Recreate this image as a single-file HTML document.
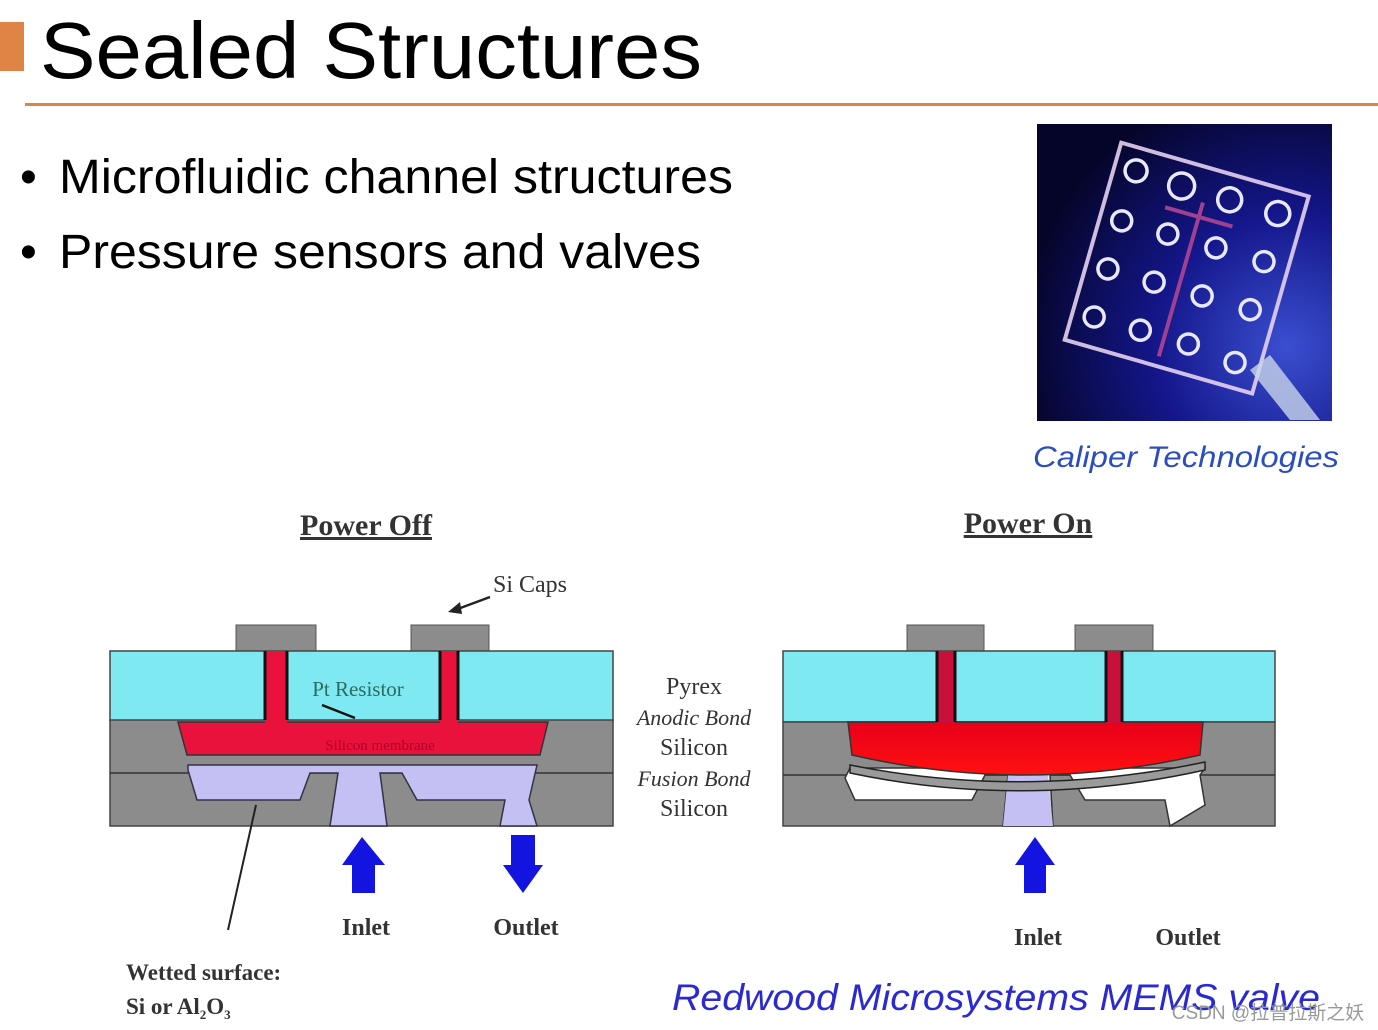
<!DOCTYPE html>
<html><head><meta charset="utf-8"><style>
html,body{margin:0;padding:0;background:#fff;}
svg{display:block;}
</style></head><body>
<svg width="1378" height="1030" viewBox="0 0 1378 1030" xmlns="http://www.w3.org/2000/svg">
<defs>
<radialGradient id="bg" cx="0.85" cy="0.75" r="0.9">
<stop offset="0" stop-color="#3a4fd0"/><stop offset="0.5" stop-color="#14168a"/><stop offset="1" stop-color="#05052a"/>
</radialGradient>
<linearGradient id="red2" x1="0" y1="0" x2="0" y2="1"><stop offset="0" stop-color="#e8001a"/><stop offset="1" stop-color="#ff1010"/></linearGradient>
</defs>
<!-- title -->
<rect x="0" y="22" width="24" height="49" fill="#e08446"/>
<text x="40" y="78" font-family="Liberation Sans, sans-serif" font-size="80" textLength="662" lengthAdjust="spacingAndGlyphs">Sealed Structures</text>
<rect x="25" y="103" width="1353" height="3" fill="#e08446"/>
<!-- bullets -->
<g font-family="Liberation Sans, sans-serif" font-size="48">
<text x="20" y="193">•</text>
<text x="59" y="193" textLength="674" lengthAdjust="spacingAndGlyphs">Microfluidic channel structures</text>
<text x="20" y="268">•</text>
<text x="59" y="268" textLength="642" lengthAdjust="spacingAndGlyphs">Pressure sensors and valves</text>
</g>
<!-- photo -->
<rect x="1037" y="124" width="295" height="297" fill="url(#bg)"/>
<g transform="rotate(16 1185 265)">
<rect x="1090" y="165" width="195" height="205" fill="none" stroke="#e6d2f0" stroke-width="4" opacity="0.9"/>
<g fill="none" stroke="#e8e8ff" stroke-width="3.5">
<circle cx="1112" cy="188" r="11"/><circle cx="1160" cy="190" r="13"/><circle cx="1210" cy="190" r="12"/><circle cx="1260" cy="190" r="12"/>
<circle cx="1112" cy="240" r="10"/><circle cx="1160" cy="240" r="10"/><circle cx="1210" cy="240" r="10"/><circle cx="1260" cy="240" r="10"/>
<circle cx="1112" cy="290" r="10"/><circle cx="1160" cy="290" r="10"/><circle cx="1210" cy="290" r="10"/><circle cx="1260" cy="290" r="10"/>
<circle cx="1112" cy="340" r="10"/><circle cx="1160" cy="340" r="10"/><circle cx="1210" cy="340" r="10"/><circle cx="1260" cy="345" r="10"/>
</g>
<path d="M1185 200 V360 M1150 215 H1220" stroke="#a04090" stroke-width="4" fill="none"/>
</g>
<path d="M1250 370 L1270 355 L1320 420 L1290 420 Z" fill="#c8d4e8" opacity="0.8"/>
<text x="1186" y="467" text-anchor="middle" font-family="Liberation Sans, sans-serif" font-style="italic" font-size="30" fill="#2a4dc0" textLength="306" lengthAdjust="spacingAndGlyphs">Caliper Technologies</text>

<!-- LEFT diagram -->
<g font-family="Liberation Serif, serif" font-weight="bold" fill="#333">
<text x="366" y="535" text-anchor="middle" font-size="30" text-decoration="underline">Power Off</text>
<text x="1028" y="533" text-anchor="middle" font-size="30" text-decoration="underline">Power On</text>
</g>
<text x="493" y="592" font-family="Liberation Serif, serif" font-size="24" fill="#333">Si Caps</text>
<line x1="490" y1="597" x2="455" y2="610" stroke="#222" stroke-width="2.5"/>
<polygon points="448,612 460,602 462,614" fill="#222"/>

<rect x="236" y="625" width="80" height="27" fill="#8c8c8c" stroke="#555"/>
<rect x="411" y="625" width="78" height="27" fill="#8c8c8c" stroke="#555"/>
<rect x="110" y="651" width="503" height="70" fill="#7fe9f2" stroke="#444" stroke-width="1.5"/>
<rect x="110" y="720" width="503" height="106" fill="#8c8c8c" stroke="#444" stroke-width="1.5"/>
<line x1="110" y1="773" x2="613" y2="773" stroke="#333" stroke-width="1.5"/>
<polygon points="178,722 548,722 540,755 187,755" fill="#e8123c" stroke="#333" stroke-width="1.5"/>
<rect x="265" y="651" width="22" height="72" fill="#e8123c"/>
<rect x="440" y="651" width="18" height="72" fill="#e8123c"/>
<path d="M265 651 V720 M287 651 V720 M440 651 V720 M458 651 V720" stroke="#111" stroke-width="3"/>
<polygon points="188,765 537,765 529,800 537,826 500,826 505,800 417,800 402,773 380,773 387,826 330,826 338,773 310,773 300,800 197,800 188,770" fill="#c4c0f4" stroke="#334" stroke-width="1.5"/>
<text x="358" y="696" text-anchor="middle" font-family="Liberation Serif, serif" font-size="21" fill="#2d6b60">Pt Resistor</text>
<line x1="322" y1="705" x2="355" y2="718" stroke="#111" stroke-width="2.5"/>
<text x="380" y="750" text-anchor="middle" font-family="Liberation Serif, serif" font-size="15" fill="#b00028">Silicon membrane</text>
<line x1="256" y1="805" x2="228" y2="930" stroke="#222" stroke-width="2"/>

<polygon points="362,837 385,865 375,865 375,893 352,893 352,865 342,865" fill="#1414e0"/>
<polygon points="523,893 543,865 535,865 535,835 511,835 511,865 503,865" fill="#1414e0"/>
<g font-family="Liberation Serif, serif" font-size="24" fill="#333" font-weight="bold">
<text x="366" y="935" text-anchor="middle">Inlet</text>
<text x="526" y="935" text-anchor="middle">Outlet</text>
<text x="1038" y="945" text-anchor="middle">Inlet</text>
<text x="1188" y="945" text-anchor="middle">Outlet</text>
<text x="126" y="980" font-size="23">Wetted surface:</text>
<text x="126" y="1014" font-size="23">Si or Al<tspan font-size="13" dy="5">2</tspan><tspan dy="-5">O</tspan><tspan font-size="13" dy="5">3</tspan></text>
</g>
<g font-family="Liberation Serif, serif" font-size="24" fill="#333" text-anchor="middle">
<text x="694" y="694">Pyrex</text>
<text x="694" y="725" font-style="italic" font-size="22">Anodic Bond</text>
<text x="694" y="755">Silicon</text>
<text x="694" y="786" font-style="italic" font-size="22">Fusion Bond</text>
<text x="694" y="816">Silicon</text>
</g>

<!-- RIGHT diagram -->
<rect x="907" y="625" width="77" height="27" fill="#8c8c8c" stroke="#555"/>
<rect x="1075" y="625" width="78" height="27" fill="#8c8c8c" stroke="#555"/>
<rect x="783" y="651" width="492" height="71" fill="#7fe9f2" stroke="#444" stroke-width="1.5"/>
<rect x="783" y="722" width="492" height="104" fill="#8c8c8c" stroke="#444" stroke-width="1.5"/>
<line x1="783" y1="775" x2="1275" y2="775" stroke="#333" stroke-width="1.5"/>
<polygon points="850,768 1205,768 1200,775 1205,805 1170,826 1165,800 1085,800 1070,775 1050,775 1053,826 1003,826 1008,775 985,775 972,800 855,800 845,778" fill="#fff" stroke="#333" stroke-width="1.5"/>
<polygon points="1003,826 1053,826 1048,775 1008,775" fill="#c4c0f4"/>
<path d="M850 765 Q1025 800 1205 762 L1205 770 Q1025 810 850 773 Z" fill="#9a9a9a" stroke="#222" stroke-width="1.5"/>
<path d="M848 722 L1203 722 L1200 755 Q1025 795 852 755 Z" fill="url(#red2)" stroke="#333" stroke-width="1.5"/>
<rect x="937" y="651" width="18" height="72" fill="#c8103a"/>
<rect x="1106" y="651" width="16" height="72" fill="#c8103a"/>
<path d="M937 651 V722 M955 651 V722 M1106 651 V722 M1122 651 V722" stroke="#111" stroke-width="3"/>
<polygon points="1035,837 1055,865 1046,865 1046,893 1024,893 1024,865 1015,865" fill="#1414e0"/>

<text x="996" y="1010" text-anchor="middle" font-family="Liberation Sans, sans-serif" font-style="italic" font-size="37" fill="#2a2ad0" textLength="648" lengthAdjust="spacingAndGlyphs">Redwood Microsystems MEMS valve</text>
<text x="1268" y="1019" text-anchor="middle" font-family="Liberation Sans, 'Noto Sans CJK SC', sans-serif" font-size="19" fill="#999">CSDN @拉普拉斯之妖</text>
</svg>
</body></html>
